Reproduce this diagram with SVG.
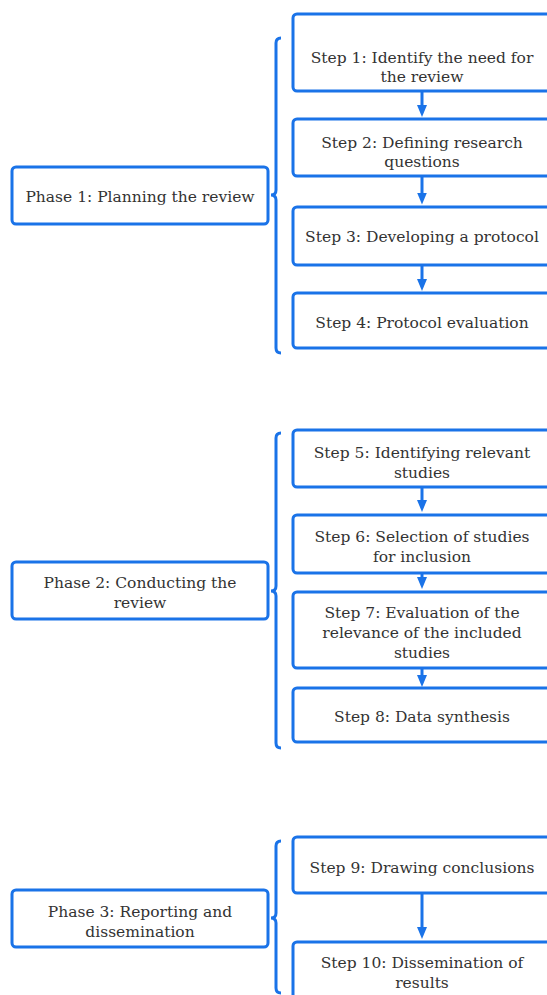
<svg xmlns="http://www.w3.org/2000/svg" width="547" height="995" viewBox="0 0 547 995">
<defs>
<marker id="ah" viewBox="0 0 12 10" refX="4" refY="5" markerWidth="12" markerHeight="10" markerUnits="userSpaceOnUse" orient="auto">
<path d="M0,0 L12,5 L0,10 z" fill="#1a73e8"/>
</marker>
</defs>
<style>
.box{fill:#fff;stroke:#1a73e8;stroke-width:3}
.t{font-family:"DejaVu Serif","Liberation Serif",serif;font-size:15.5px;fill:#333;text-anchor:middle}
.c{fill:none;stroke:#1a73e8;stroke-width:3}
</style>
<rect width="547" height="995" fill="#fff"/>
<g id="connectors">
<path class="c" d="M281,38 Q276,38 276,43 L276,190 Q276,195 271,195 Q276,195 276,200 L276,348 Q276,353 281,353"/>
<path class="c" d="M281,433 Q276,433 276,438 L276,586 Q276,591 271,591 Q276,591 276,596 L276,743 Q276,748 281,748"/>
<path class="c" d="M281,841 Q276,841 276,846 L276,913 Q276,918 271,918 Q276,918 276,923 L276,988 Q276,993 281,993"/>
<line class="c" x1="422" y1="91" x2="422" y2="109" marker-end="url(#ah)"/>
<line class="c" x1="422" y1="176" x2="422" y2="196.5" marker-end="url(#ah)"/>
<line class="c" x1="422" y1="265" x2="422" y2="283" marker-end="url(#ah)"/>
<line class="c" x1="422" y1="487" x2="422" y2="504" marker-end="url(#ah)"/>
<line class="c" x1="422" y1="573" x2="422" y2="581" marker-end="url(#ah)"/>
<line class="c" x1="422" y1="668" x2="422" y2="679" marker-end="url(#ah)"/>
<line class="c" x1="422" y1="893" x2="422" y2="931" marker-end="url(#ah)"/>
</g>
<g id="phase1"><rect class="box" x="12" y="167" width="256" height="57" rx="4"/><text class="t" x="140" y="202">Phase 1: Planning the review</text></g>
<g id="phase2"><rect class="box" x="12" y="562" width="256" height="57" rx="4"/><text class="t" x="140" y="588">Phase 2: Conducting the</text><text class="t" x="140" y="608">review</text></g>
<g id="phase3"><rect class="box" x="12" y="890" width="256" height="57" rx="4"/><text class="t" x="140" y="916.5">Phase 3: Reporting and</text><text class="t" x="140" y="936.5">dissemination</text></g>
<g id="step1"><rect class="box" x="293" y="14" width="262" height="77" rx="4"/><text class="t" x="422" y="62.5">Step 1: Identify the need for</text><text class="t" x="422" y="82">the review</text></g>
<g id="step2"><rect class="box" x="293" y="119" width="262" height="57" rx="4"/><text class="t" x="422" y="147.5">Step 2: Defining research</text><text class="t" x="422" y="166.5">questions</text></g>
<g id="step3"><rect class="box" x="293" y="207" width="262" height="58" rx="4"/><text class="t" x="422" y="241.5">Step 3: Developing a protocol</text></g>
<g id="step4"><rect class="box" x="293" y="293" width="262" height="55" rx="4"/><text class="t" x="422" y="328">Step 4: Protocol evaluation</text></g>
<g id="step5"><rect class="box" x="293" y="430" width="262" height="57" rx="4"/><text class="t" x="422" y="457.5">Step 5: Identifying relevant</text><text class="t" x="422" y="477.5">studies</text></g>
<g id="step6"><rect class="box" x="293" y="515" width="262" height="58" rx="4"/><text class="t" x="422" y="541.5">Step 6: Selection of studies</text><text class="t" x="422" y="561.5">for inclusion</text></g>
<g id="step7"><rect class="box" x="293" y="592" width="262" height="76" rx="4"/><text class="t" x="422" y="618">Step 7: Evaluation of the</text><text class="t" x="422" y="638">relevance of the included</text><text class="t" x="422" y="658">studies</text></g>
<g id="step8"><rect class="box" x="293" y="688" width="262" height="54" rx="4"/><text class="t" x="422" y="721.5">Step 8: Data synthesis</text></g>
<g id="step9"><rect class="box" x="293" y="837" width="262" height="56" rx="4"/><text class="t" x="422" y="872.5">Step 9: Drawing conclusions</text></g>
<g id="step10"><rect class="box" x="293" y="942" width="262" height="62" rx="4"/><text class="t" x="422" y="968">Step 10: Dissemination of</text><text class="t" x="422" y="988">results</text></g>
</svg>
